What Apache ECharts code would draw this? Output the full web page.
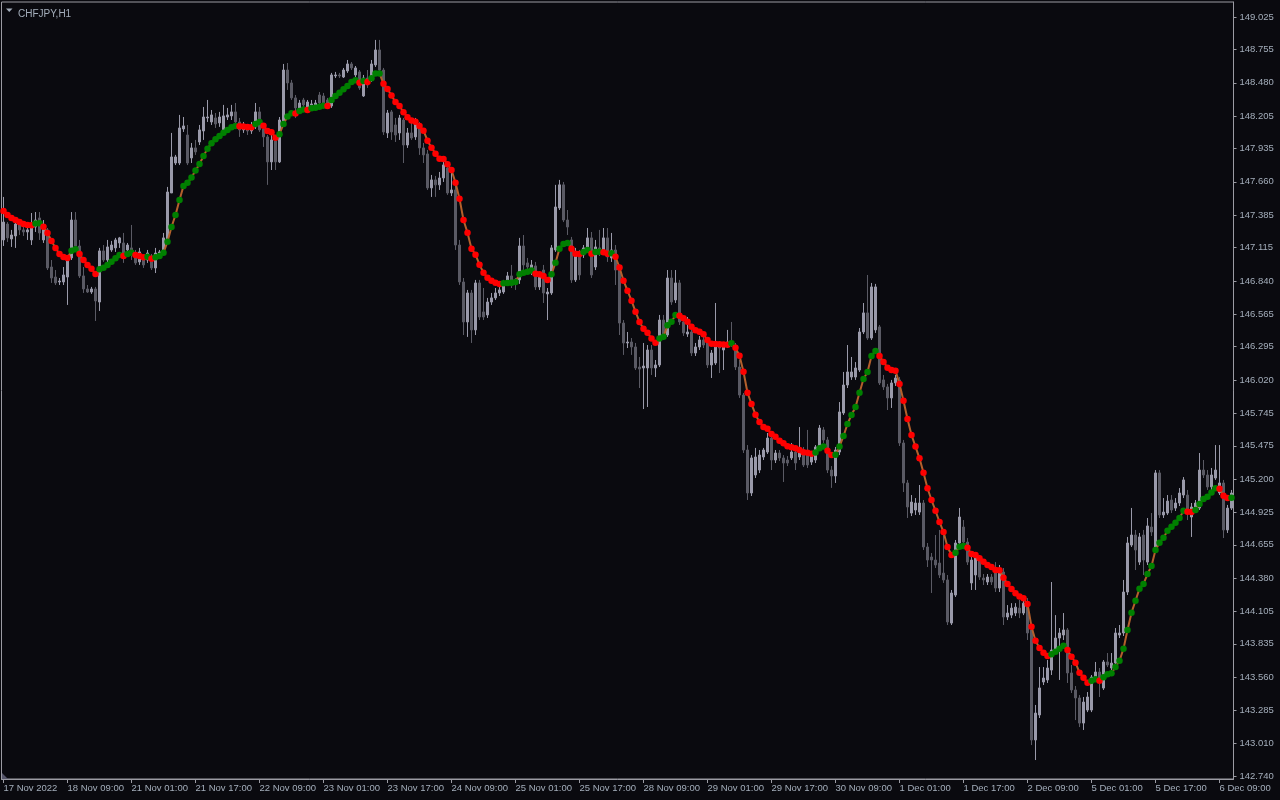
<!DOCTYPE html>
<html><head><meta charset="utf-8">
<script src="https://cdn.jsdelivr.net/npm/echarts@6/dist/echarts.min.js"></script>
<style>html,body{margin:0;padding:0;background:#0a0a0f;}#c{width:1280px;height:800px;}</style>
</head><body><div id="c"></div>
<script>
const symbolName = 'CHFJPY,H1';
const xLabels = ['17 Nov 2022','18 Nov 09:00','21 Nov 01:00','21 Nov 17:00','22 Nov 09:00','23 Nov 01:00','23 Nov 17:00','24 Nov 09:00','25 Nov 01:00','25 Nov 17:00','28 Nov 09:00','29 Nov 01:00','29 Nov 17:00','30 Nov 09:00','1 Dec 01:00','1 Dec 17:00','2 Dec 09:00','5 Dec 01:00','5 Dec 17:00','6 Dec 09:00'];
const labelEvery = 16;
const yTicks = [149.025,148.755,148.480,148.205,147.935,147.660,147.385,147.115,146.840,146.565,146.295,146.020,145.745,145.475,145.200,144.925,144.655,144.380,144.105,143.835,143.560,143.285,143.010,142.740];

const open = [
147.179,147.311,147.187,147.212,147.311,147.262,147.245,147.179,147.286,147.361,
147.179,147.262,146.955,146.872,146.831,146.831,146.872,147.030,147.344,147.129,
146.881,146.773,146.748,146.773,146.665,147.088,147.013,147.096,147.113,147.154,
147.154,147.096,147.113,147.071,146.997,147.030,147.013,147.046,146.947,147.038,
147.071,147.179,147.568,147.816,147.816,148.098,148.048,147.858,147.941,147.990,
148.081,148.189,148.156,148.189,148.148,148.090,148.197,148.206,148.239,148.156,
148.090,148.115,148.081,148.115,148.239,148.098,148.032,147.825,147.999,147.825,
148.156,148.586,148.479,148.355,148.272,148.338,148.280,148.297,148.297,148.379,
148.371,148.338,148.288,148.537,148.545,148.528,148.578,148.636,148.545,148.570,
148.371,148.520,148.504,148.628,148.752,148.586,148.065,148.239,148.131,148.065,
148.172,147.965,148.065,148.032,148.139,147.941,147.891,147.610,147.676,147.635,
147.692,147.775,147.568,147.593,147.137,146.831,146.500,146.740,146.434,146.823,
146.583,146.558,146.665,146.699,146.740,146.748,146.831,146.881,146.831,146.848,
147.129,146.989,146.947,146.964,146.790,146.930,146.732,146.740,147.096,147.444,
147.635,147.344,147.179,146.848,147.080,147.055,147.113,147.196,146.955,147.113,
147.096,147.196,147.030,147.096,146.930,146.491,146.326,146.334,146.293,146.127,
146.119,146.119,146.268,146.119,146.144,146.516,146.392,146.864,146.682,146.823,
146.500,146.400,146.417,146.243,146.293,146.351,146.334,146.144,146.160,146.309,
146.268,146.309,146.334,146.309,146.127,145.895,145.440,145.084,145.233,145.274,
145.382,145.423,145.539,145.357,145.415,145.374,145.357,145.374,145.423,145.382,
145.440,145.398,145.340,145.357,145.465,145.606,145.523,145.274,145.225,145.423,
145.746,145.978,146.044,146.044,146.102,146.417,146.575,146.367,146.434,146.459,
146.020,145.962,145.871,145.995,146.020,145.498,145.167,144.918,144.943,144.926,
145.001,144.637,144.554,144.529,144.504,144.421,144.364,144.007,144.239,144.670,
144.802,144.678,144.339,144.405,144.546,144.380,144.347,144.388,144.463,144.297,
144.430,144.057,144.073,144.090,144.131,144.090,144.172,143.950,143.039,143.246,
143.519,143.536,143.618,143.784,143.883,143.908,143.950,143.594,143.453,143.387,
143.179,143.287,143.287,143.560,143.602,143.469,143.685,143.635,143.676,143.908,
143.925,144.264,144.653,144.736,144.512,144.736,144.512,144.802,144.637,145.250,
144.902,144.918,145.026,144.959,145.001,145.067,145.067,144.885,144.943,144.959,
145.274,145.233,145.134,145.208,145.084,145.167,144.778,144.959
];
const close = [
147.327,147.196,147.220,147.311,147.262,147.245,147.262,147.286,147.344,147.237,
147.278,146.947,146.864,146.823,146.839,146.889,147.013,147.344,147.129,146.881,
146.773,146.748,146.773,146.674,147.088,147.013,147.121,147.137,147.179,147.196,
147.071,147.137,147.071,146.989,147.080,146.972,147.071,146.947,147.071,147.080,
147.196,147.576,147.866,147.866,148.106,148.123,147.816,147.941,147.908,148.090,
148.197,148.197,148.214,148.139,148.197,148.206,148.214,148.239,148.156,148.090,
148.115,148.081,148.115,148.239,148.090,148.032,147.825,148.007,147.825,148.172,
148.586,148.479,148.355,148.272,148.313,148.297,148.321,148.305,148.313,148.313,
148.297,148.297,148.545,148.545,148.537,148.586,148.636,148.603,148.603,148.438,
148.520,148.462,148.636,148.752,148.586,148.073,148.230,148.073,148.048,148.189,
147.965,148.065,148.023,148.148,147.941,147.883,147.610,147.676,147.635,147.692,
147.800,147.568,147.593,147.137,146.831,146.500,146.740,146.434,146.823,146.541,
146.541,146.665,146.699,146.740,146.765,146.806,146.881,146.806,146.815,147.129,
146.972,146.955,146.972,146.790,146.872,146.740,146.748,147.113,147.452,147.635,
147.344,147.286,146.848,147.080,146.889,147.113,147.196,146.889,147.121,147.080,
147.196,147.038,147.096,146.930,146.491,146.326,146.334,146.293,146.119,146.110,
146.135,146.268,146.119,146.144,146.516,146.376,146.864,146.665,146.823,146.500,
146.409,146.417,146.243,146.293,146.351,146.309,146.144,146.243,146.293,146.284,
146.293,146.334,146.309,146.127,145.895,145.440,145.084,145.374,145.382,145.398,
145.440,145.539,145.357,145.415,145.374,145.332,145.332,145.423,145.332,145.457,
145.316,145.316,145.398,145.465,145.622,145.523,145.274,145.225,145.440,145.755,
145.978,146.086,146.086,146.119,146.417,146.575,146.367,146.790,146.790,145.995,
145.962,145.871,145.995,146.036,145.498,145.167,144.968,145.009,145.001,145.001,
144.637,144.529,144.529,144.488,144.405,144.364,144.016,144.256,144.670,144.885,
144.678,144.512,144.529,144.546,144.388,144.364,144.388,144.347,144.297,144.446,
144.057,144.090,144.131,144.139,144.090,144.172,143.925,143.039,143.262,143.470,
143.552,143.635,143.784,143.883,143.925,143.950,143.594,143.453,143.387,143.179,
143.353,143.395,143.560,143.602,143.519,143.685,143.660,143.676,143.925,143.925,
144.264,144.670,144.736,144.612,144.720,144.529,144.811,144.761,145.250,144.902,
144.926,145.017,144.943,145.001,145.084,145.192,144.926,144.968,145.001,145.274,
145.233,145.134,145.233,145.274,145.167,144.778,144.959,145.084
];
const low = [
147.129,147.162,147.121,147.113,147.220,147.212,147.179,147.137,147.245,147.179,
147.154,146.930,146.823,146.806,146.806,146.806,146.641,147.013,147.113,146.864,
146.740,146.740,146.732,146.508,146.591,146.997,146.989,147.080,147.080,147.113,
146.989,147.080,147.013,146.972,146.972,146.947,146.989,146.930,146.905,147.030,
147.055,147.162,147.568,147.799,147.799,148.073,147.799,147.816,147.883,147.965,
148.007,148.156,148.131,148.106,148.115,148.073,148.172,148.172,148.131,148.032,
148.065,148.048,148.057,148.098,148.073,147.949,147.635,147.758,147.758,147.816,
148.131,148.421,148.338,148.189,148.255,148.272,148.255,148.280,148.272,148.297,
148.272,148.272,148.272,148.520,148.520,148.520,148.562,148.586,148.528,148.421,
148.363,148.438,148.487,148.611,148.570,148.048,148.023,148.007,147.990,148.007,
147.816,147.941,148.007,148.007,147.883,147.816,147.593,147.535,147.535,147.593,
147.659,147.552,147.543,147.096,146.806,146.392,146.376,146.326,146.392,146.516,
146.516,146.533,146.641,146.682,146.715,146.732,146.806,146.781,146.765,146.815,
146.930,146.914,146.889,146.765,146.765,146.657,146.516,146.724,147.080,147.427,
147.327,147.220,146.823,146.831,146.848,147.030,147.080,146.864,146.930,147.046,
147.055,146.997,146.997,146.806,146.392,146.227,146.284,146.227,146.102,145.953,
145.779,145.796,146.061,146.044,146.127,146.351,146.376,146.641,146.657,146.475,
146.384,146.376,146.218,146.218,146.268,146.284,146.119,146.036,146.144,146.077,
146.102,146.284,146.293,146.102,145.871,145.415,145.026,145.059,145.208,145.249,
145.357,145.407,145.274,145.332,145.349,145.175,145.307,145.357,145.274,145.357,
145.299,145.291,145.316,145.332,145.440,145.498,145.249,145.126,145.167,145.398,
145.730,145.953,146.020,146.020,146.086,146.400,146.351,146.351,146.409,145.978,
145.937,145.771,145.788,145.970,145.473,145.092,144.877,144.893,144.902,144.902,
144.612,144.471,144.256,144.463,144.380,144.339,143.991,143.991,144.223,144.653,
144.653,144.488,144.281,144.281,144.364,144.322,144.322,144.322,144.264,144.264,
143.991,144.032,144.048,144.065,144.048,144.073,143.867,142.997,142.873,143.221,
143.494,143.511,143.577,143.759,143.536,143.867,143.511,143.428,143.204,143.146,
143.122,143.270,143.270,143.536,143.395,143.453,143.643,143.618,143.660,143.883,
143.900,144.239,144.637,144.446,144.488,144.405,144.488,144.728,144.612,144.877,
144.877,144.902,144.918,144.935,144.976,145.042,144.860,144.720,144.918,144.943,
145.208,145.109,145.109,145.192,145.067,144.711,144.753,144.943
];
const high = [
147.535,147.327,147.262,147.361,147.352,147.295,147.295,147.402,147.410,147.410,
147.344,147.278,147.013,146.930,146.864,146.955,147.038,147.410,147.410,147.179,
146.955,146.806,146.790,146.790,147.113,147.137,147.179,147.171,147.196,147.204,
147.237,147.154,147.303,147.096,147.113,147.055,147.096,147.063,147.113,147.096,
147.237,147.618,148.065,147.883,148.214,148.197,148.131,147.982,148.007,148.131,
148.280,148.338,148.255,148.230,148.239,148.297,148.272,148.297,148.313,148.189,
148.156,148.139,148.156,148.313,148.280,148.131,148.048,148.048,148.023,148.197,
148.636,148.644,148.504,148.379,148.338,148.355,148.338,148.338,148.338,148.404,
148.396,148.355,148.562,148.570,148.562,148.603,148.669,148.652,148.619,148.586,
148.545,148.586,148.669,148.835,148.835,148.603,148.255,148.255,148.189,148.214,
148.189,148.106,148.172,148.189,148.156,147.982,147.924,147.717,147.709,147.742,
147.866,147.800,147.775,147.635,147.179,146.864,146.765,146.765,146.848,146.848,
146.781,146.699,146.740,146.781,146.798,146.848,146.914,146.972,146.864,147.196,
147.220,147.030,147.013,146.997,146.897,146.972,146.781,147.137,147.635,147.676,
147.659,147.427,147.204,147.113,147.096,147.137,147.278,147.245,147.179,147.262,
147.278,147.278,147.237,147.137,146.972,146.516,146.417,146.367,146.326,146.210,
146.326,146.309,146.309,146.185,146.558,146.558,146.930,146.930,146.930,146.848,
146.533,146.541,146.450,146.326,146.384,146.376,146.351,146.268,146.657,146.334,
146.317,146.434,146.500,146.326,146.185,145.912,145.481,145.398,145.457,145.440,
145.457,145.581,145.556,145.440,145.440,145.398,145.390,145.498,145.448,145.630,
145.465,145.606,145.423,145.481,145.647,145.630,145.548,145.307,145.465,145.837,
146.086,146.309,146.210,146.168,146.450,146.657,146.889,146.823,146.815,146.475,
146.061,145.987,146.020,146.061,146.044,145.523,145.192,145.067,145.042,145.150,
145.026,144.670,144.587,144.736,144.778,144.753,144.405,144.281,144.695,144.960,
144.860,144.711,144.570,144.595,144.570,144.413,144.413,144.413,144.512,144.488,
144.463,144.156,144.172,144.172,144.198,144.214,144.214,143.991,143.329,143.643,
143.643,143.701,144.347,144.073,143.966,144.090,143.966,143.660,143.486,143.411,
143.395,143.436,143.577,143.685,143.635,143.701,143.759,143.759,143.966,143.991,
144.364,144.720,144.960,144.778,144.753,144.778,144.877,144.918,145.274,145.274,
145.042,145.067,145.067,145.042,145.125,145.216,145.109,145.001,145.026,145.415,
145.357,145.274,145.291,145.481,145.481,145.192,144.985,145.109
];
const ma = [
147.419,147.386,147.361,147.344,147.328,147.311,147.303,147.300,147.315,147.317,
147.289,147.237,147.171,147.113,147.063,147.038,147.030,147.090,147.102,147.063,
147.013,146.972,146.941,146.897,146.936,146.949,146.972,146.999,147.027,147.055,
147.046,147.063,147.074,147.055,147.046,147.035,147.040,147.024,147.035,147.046,
147.074,147.165,147.286,147.386,147.510,147.626,147.653,147.695,147.753,147.808,
147.874,147.935,147.979,148.013,148.040,148.067,148.090,148.112,148.123,148.120,
148.118,148.115,148.113,148.139,148.156,148.125,148.081,148.071,148.026,148.054,
148.139,148.200,148.228,148.225,148.247,148.258,148.255,148.269,148.274,148.282,
148.291,148.288,148.338,148.371,148.398,148.426,148.454,148.487,148.501,148.481,
148.495,148.487,148.518,148.556,148.558,148.473,148.429,148.374,148.321,148.288,
148.236,148.195,148.167,148.158,148.123,148.084,148.001,147.943,147.893,147.852,
147.849,147.806,147.758,147.653,147.521,147.344,147.239,147.107,147.057,146.974,
146.908,146.867,146.842,146.825,146.814,146.820,146.823,146.825,146.831,146.895,
146.908,146.916,146.925,146.900,146.895,146.881,146.848,146.895,146.991,147.107,
147.146,147.154,147.107,147.065,147.063,147.080,147.096,147.065,147.080,147.082,
147.077,147.065,147.069,147.040,146.951,146.842,146.759,146.676,146.585,146.500,
146.444,146.411,146.362,146.328,146.362,146.378,146.473,146.502,146.558,146.552,
146.530,146.502,146.461,146.431,146.419,146.398,146.351,146.320,146.318,146.315,
146.313,146.312,146.323,146.287,146.221,146.088,145.914,145.821,145.732,145.672,
145.630,145.616,145.572,145.550,145.517,145.495,145.471,145.462,145.454,145.440,
145.421,145.418,145.408,145.419,145.454,145.468,145.434,145.399,145.400,145.468,
145.556,145.655,145.730,145.796,145.914,146.028,146.086,146.218,146.260,146.218,
146.169,146.121,146.102,146.097,145.987,145.848,145.697,145.564,145.468,145.371,
145.252,145.123,145.026,144.937,144.844,144.761,144.637,144.571,144.590,144.639,
144.645,144.631,144.579,144.571,144.543,144.515,144.488,144.471,144.446,144.444,
144.383,144.330,144.289,144.254,144.227,144.212,144.165,143.977,143.861,143.801,
143.762,143.734,143.748,143.770,143.795,143.820,143.784,143.728,143.679,143.596,
143.555,143.513,143.530,143.541,143.530,143.558,143.583,143.591,143.643,143.695,
143.795,143.950,144.093,144.192,144.292,144.331,144.413,144.480,144.612,144.672,
144.714,144.772,144.805,144.838,144.877,144.937,144.929,144.927,144.943,144.993,
145.034,145.053,145.087,145.123,145.120,145.062,145.043,145.045
];

const cats = open.map((_, i) => String(i));
const candles = open.map((o, i) => [o, close[i], low[i], high[i]]);
const maData = ma.map((v, i) => ({
  value: v,
  itemStyle: { color: (i > 0 && v > ma[i - 1]) ? '#008000' : '#ff0000' }
}));

const frame = '#9b9ba3';
const txt = '#a4aebb';
const chart = echarts.init(document.getElementById('c'), null, { renderer: 'canvas' });
chart.setOption({
  animation: false,
  backgroundColor: '#0a0a0f',
  textStyle: { fontFamily: '"Liberation Sans", Arial, sans-serif' },
  title: {
    text: symbolName, left: 13, top: 4,
    textStyle: { color: txt, fontSize: 10, fontWeight: 'normal', fontFamily: '"Liberation Sans", Arial, sans-serif' }
  },
  graphic: [
    { type: 'polygon', silent: true, shape: { points: [[6, 8.5], [12.5, 8.5], [9.25, 12]] }, style: { fill: '#a4aebb' } },
    { type: 'polygon', silent: true, shape: { points: [[2, 773], [2, 779], [8, 779]] }, style: { fill: '#55556a' } }
  ],
  grid: { left: 1.5, right: 46.5, top: 2, bottom: 21, show: true, borderColor: frame, borderWidth: 1, backgroundColor: 'transparent' },
  xAxis: {
    type: 'category', data: cats, boundaryGap: true,
    axisLine: { show: true, lineStyle: { color: frame } },
    axisTick: { show: true, alignWithLabel: true, length: 4, interval: (i) => i % labelEvery === 0, lineStyle: { color: frame } },
    axisLabel: {
      interval: (i) => i % labelEvery === 0,
      formatter: (v, i) => xLabels[i / labelEvery] || '',
      align: 'left', margin: 4, color: txt, fontSize: 9.5
    },
    splitLine: { show: false }
  },
  yAxis: {
    type: 'value', position: 'right', min: 142.716, max: 149.149,
    axisLine: { show: true, lineStyle: { color: frame } },
    axisTick: { show: true, customValues: yTicks, length: 3, lineStyle: { color: frame } },
    axisLabel: { customValues: yTicks, formatter: (v) => v.toFixed(3), color: txt, fontSize: 9.5, margin: 6 },
    splitLine: { show: false }
  },
  series: [
    {
      type: 'candlestick', data: candles, barWidth: 2, silent: true, z: 2,
      itemStyle: { color: '#9a9aaa', color0: '#5a5a64', borderColor: '#9a9aaa', borderColor0: '#5a5a64', borderWidth: 1 }
    },
    {
      type: 'line', data: maData, silent: true, z: 3,
      symbol: 'circle', symbolSize: 6.5, showSymbol: true, showAllSymbol: true,
      lineStyle: { color: '#b4602c', width: 2 },
      emphasis: { disabled: true }
    }
  ]
});
</script></body></html>
